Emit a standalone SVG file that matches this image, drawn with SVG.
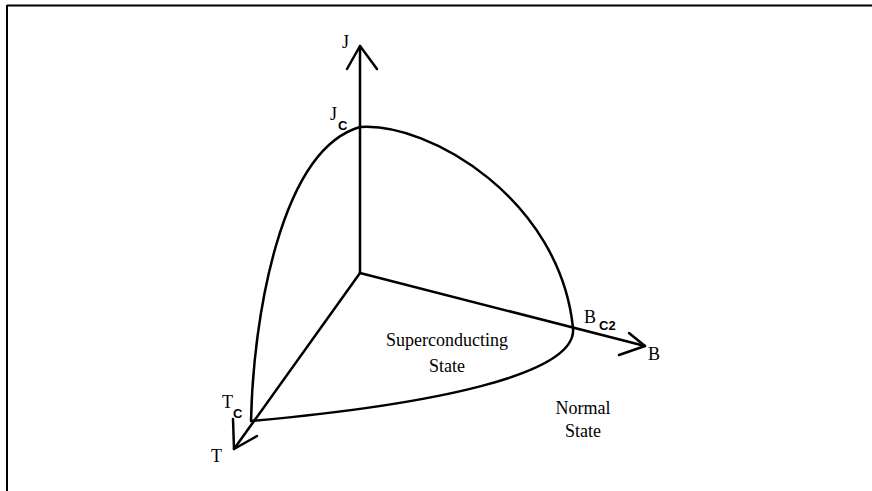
<svg xmlns="http://www.w3.org/2000/svg" width="872" height="491" viewBox="0 0 872 491">
<style>
.ln{fill:none;stroke:#000;stroke-width:2.5;stroke-linecap:round;stroke-linejoin:round}
.fr{fill:none;stroke:#000;stroke-width:2}
.t{font-family:"Liberation Serif","Times New Roman",serif;font-size:18px;fill:#000}
.s{font-family:"Liberation Sans",Arial,sans-serif;font-size:13px;font-weight:bold;fill:#000}
</style>
<rect width="872" height="491" fill="#fff"/>
<g id="frame">
<line class="fr" x1="7" y1="5.5" x2="872" y2="5.5"/>
<line class="fr" x1="7" y1="5" x2="7" y2="491"/>
</g>
<g id="connectors">
<line class="ln" x1="360" y1="273" x2="360" y2="46"/>
<polyline class="ln" points="347,69 360,46 377,69"/>
<line class="ln" x1="360" y1="273" x2="645" y2="346"/>
<polyline class="ln" points="629,333 645,346 619,355"/>
<line class="ln" x1="360" y1="273" x2="234" y2="449"/>
<polyline class="ln" points="233,419 234,449 257,436"/>
<path class="ln" d="M251,421 C253,320 280,150 360,127 C430,122 560,200 573,328 C578,375 430,405 251,421"/>
</g>
<g id="label-J"><text class="t" x="342" y="48">J</text></g>
<g id="label-Jc"><text class="t" x="330" y="120">J</text><text class="s" x="338" y="130">C</text></g>
<g id="label-Bc2"><text class="t" x="584" y="323">B</text><text class="s" x="599" y="330">C2</text></g>
<g id="label-B"><text class="t" x="648" y="360">B</text></g>
<g id="label-Tc"><text class="t" x="222" y="408">T</text><text class="s" x="233" y="418">C</text></g>
<g id="label-T"><text class="t" x="211" y="462">T</text></g>
<g id="region-super"><text class="t" x="447" y="346" text-anchor="middle">Superconducting</text><text class="t" x="447" y="372" text-anchor="middle">State</text></g>
<g id="region-normal"><text class="t" x="583" y="414" text-anchor="middle">Normal</text><text class="t" x="583" y="437" text-anchor="middle">State</text></g>
</svg>
